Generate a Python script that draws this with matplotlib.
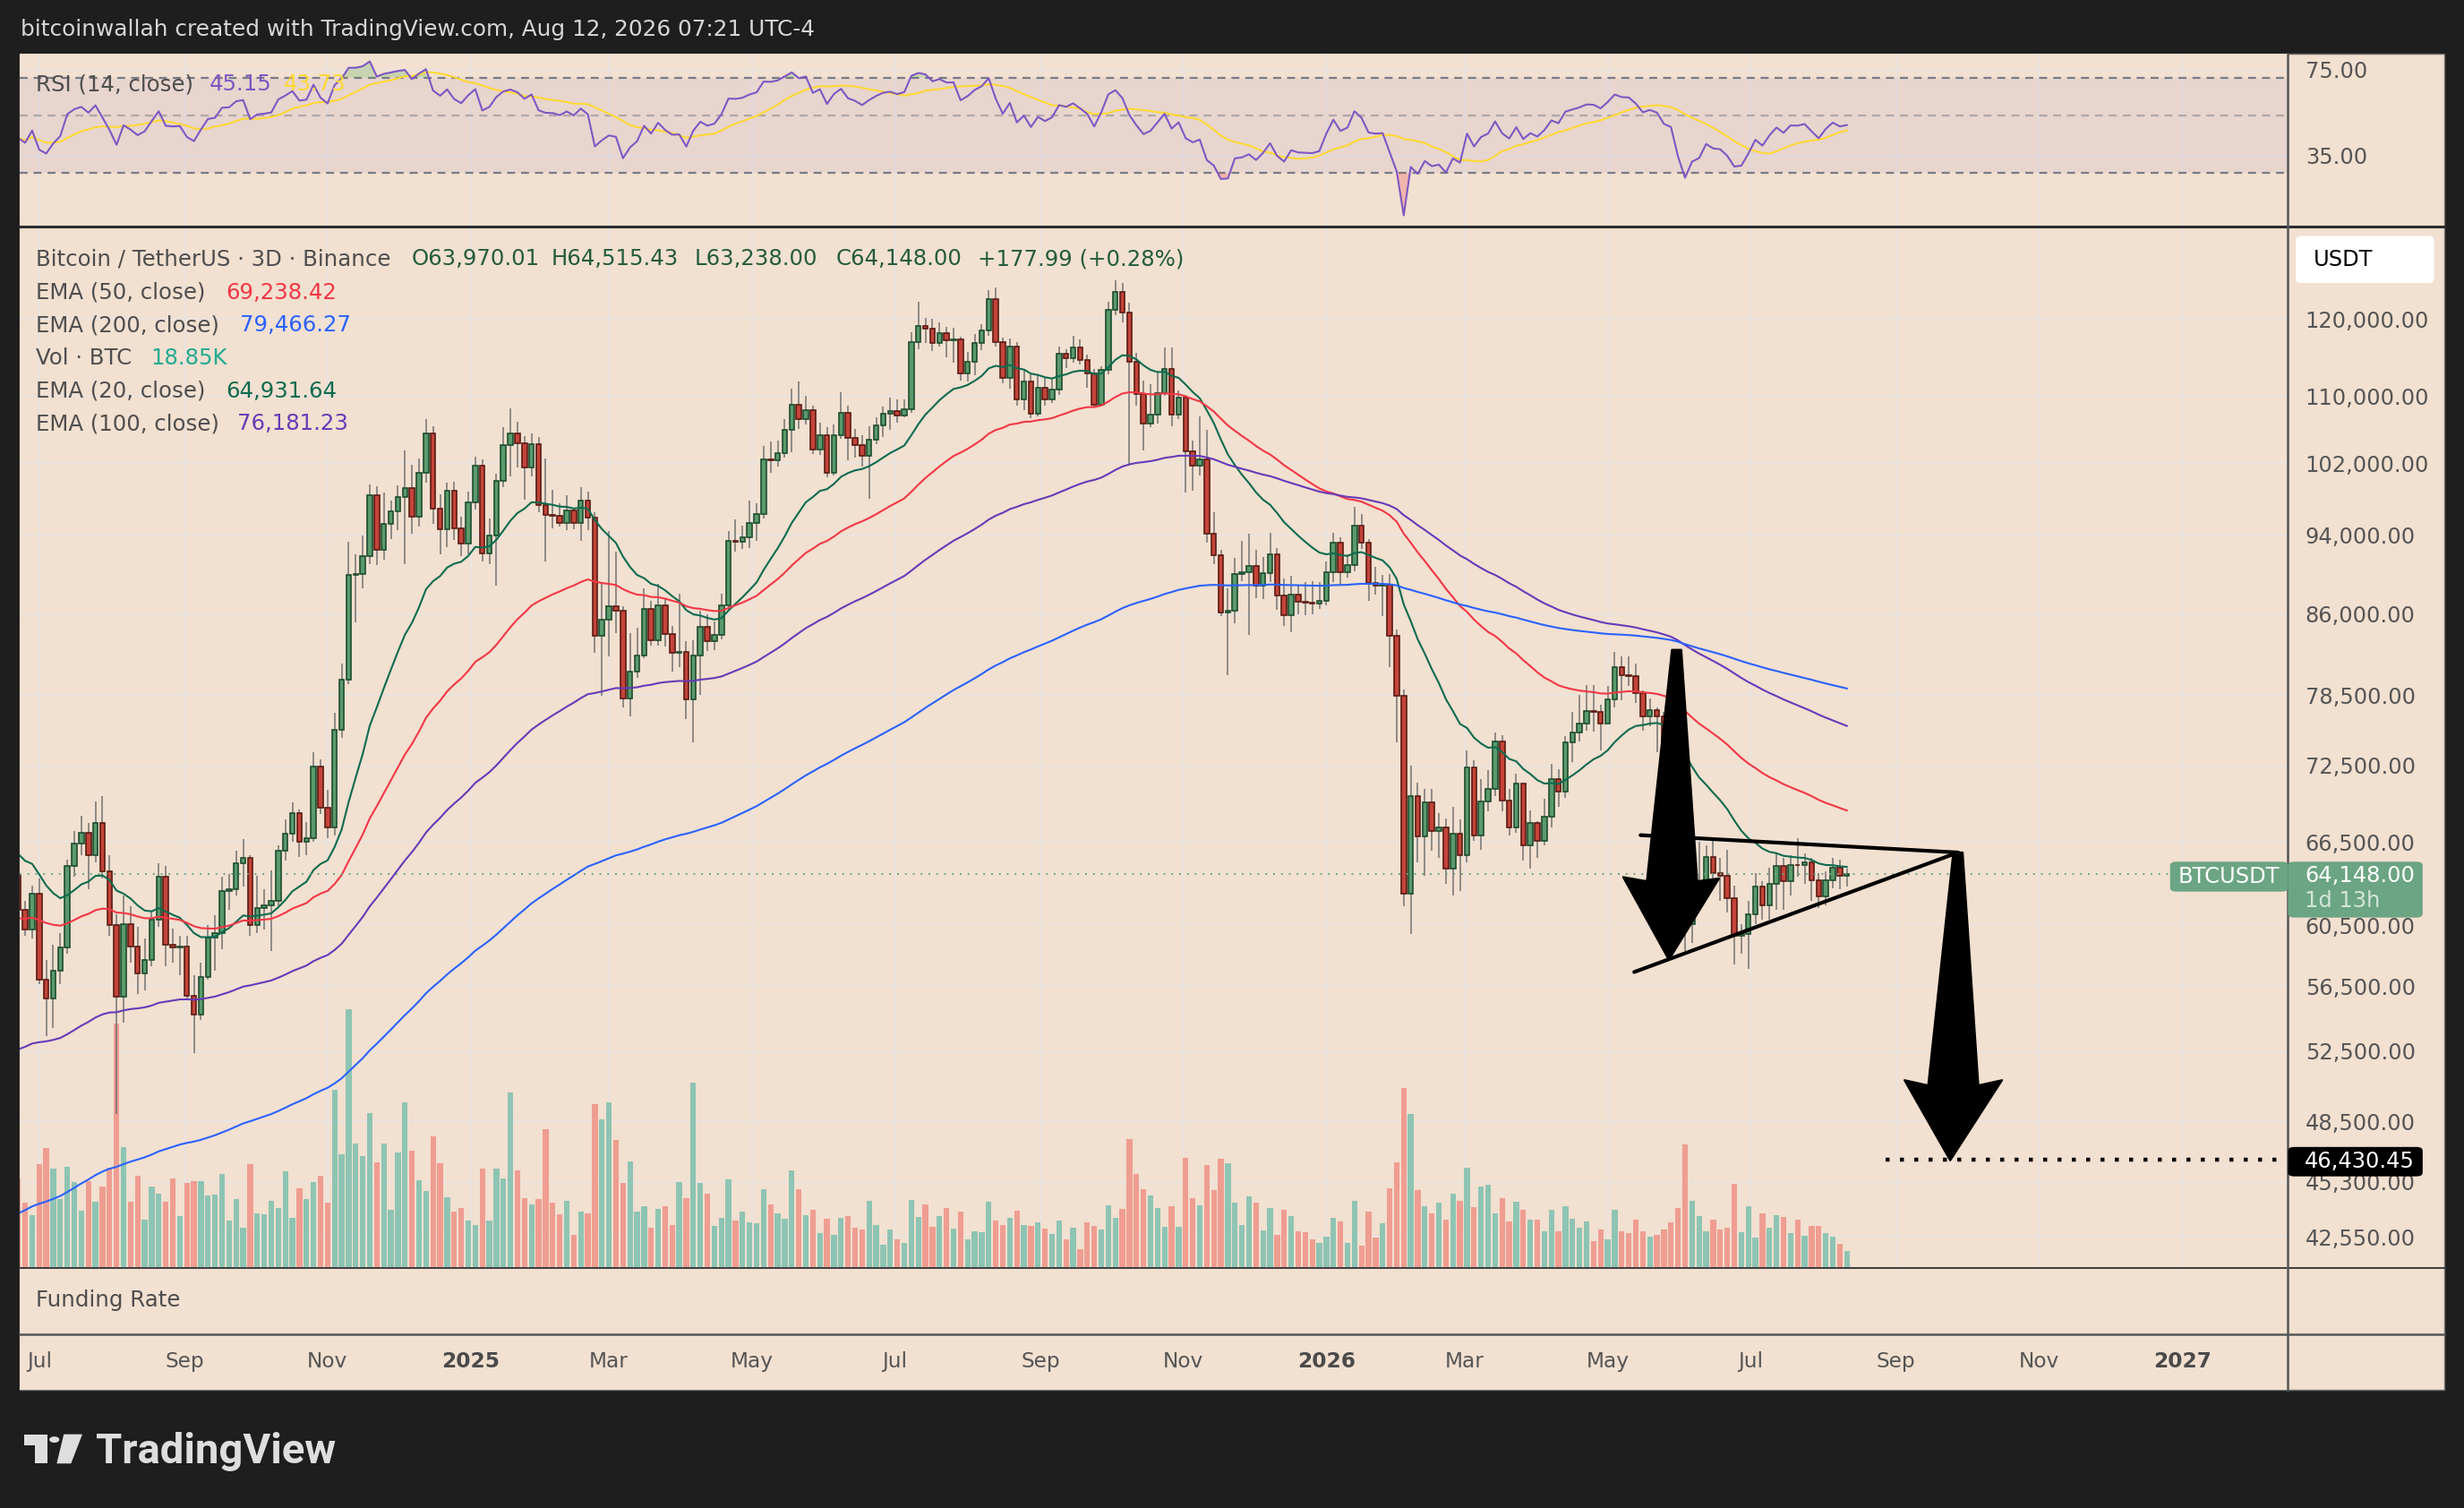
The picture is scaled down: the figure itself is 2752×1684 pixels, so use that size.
import numpy as np
import pandas as pd
import matplotlib
matplotlib.use("Agg")
import matplotlib.pyplot as plt
import matplotlib.dates as mdates
from matplotlib.lines import Line2D
from matplotlib.patches import Rectangle, FancyBboxPatch, Polygon, Circle
from matplotlib.ticker import FixedLocator, NullLocator, NullFormatter
from matplotlib.transforms import blended_transform_factory

plt.rcParams['font.family'] = ['DejaVu Sans']

# ---------------- data ----------------
# BTCUSDT 3D candles, first candle 2024-06-22, prices in thousand USDT
first_open_k = 64.0
closes_k = [61.6, 60.2, 62.7, 56.9, 55.7, 57.5, 59.0, 64.7, 66.4, 67.2,
            65.5, 67.9, 64.3, 60.5, 55.8, 60.6, 59.1, 57.3, 58.2, 60.9,
            63.9, 59.2, 59.0, 59.1, 55.9, 54.7, 57.1, 59.7, 60.0, 62.9,
            63.0, 64.9, 65.3, 60.5, 61.7, 61.9, 62.2, 65.8, 67.1, 68.7,
            66.5, 66.8, 72.4, 69.1, 67.6, 75.5, 79.9, 89.9, 90.0, 91.8,
            98.4, 92.5, 95.2, 96.6, 98.2, 99.2, 96.0, 100.9, 105.5, 96.9,
            94.7, 98.9, 94.8, 93.1, 97.6, 101.7, 92.1, 94.0, 100.0, 104.1,
            105.5, 104.3, 101.5, 104.2, 97.3, 96.2, 96.1, 95.3, 96.7, 95.3,
            97.8, 95.9, 83.9, 85.5, 86.8, 86.3, 78.2, 80.6, 82.1, 86.5,
            83.5, 86.9, 84.1, 82.3, 82.4, 78.1, 82.1, 84.8, 83.4, 84.0,
            86.9, 93.4, 93.3, 93.8, 95.3, 96.3, 102.4, 102.3, 103.2, 105.9,
            108.9, 107.2, 108.3, 103.6, 105.3, 100.9, 105.3, 108.0, 104.9, 104.1,
            102.8, 104.7, 106.4, 107.8, 108.2, 107.6, 108.4, 116.9, 119.1, 118.7,
            116.8, 118.1, 117.2, 117.3, 112.9, 114.4, 116.8, 118.5, 122.7, 116.9,
            112.3, 116.3, 109.6, 111.9, 107.8, 111.1, 109.6, 110.8, 115.4, 114.8,
            116.2, 114.6, 112.9, 109.0, 113.3, 121.3, 123.8, 120.9, 114.4, 110.3,
            106.7, 107.7, 110.4, 113.5, 107.7, 109.8, 103.4, 101.7, 102.4, 94.2,
            91.9, 86.2, 86.3, 90.0, 90.2, 90.8, 88.8, 90.1, 92.0, 87.8,
            85.9, 87.9, 87.2, 87.1, 87.0, 87.3, 90.2, 93.2, 90.2, 90.9,
            95.0, 93.2, 89.1, 88.8, 88.9, 83.9, 78.4, 62.7, 70.0, 66.9,
            69.5, 67.3, 67.6, 64.5, 67.1, 65.5, 72.3, 67.0, 69.6, 70.6,
            74.5, 69.7, 67.6, 71.0, 66.2, 67.9, 66.6, 68.4, 71.4, 70.4,
            74.4, 75.2, 76.0, 77.1, 77.0, 76.0, 78.1, 81.0, 80.3, 80.2,
            78.7, 76.6, 77.2, 76.6, 74.1, 73.4, 66.4, 60.6, 62.7, 63.2,
            65.4, 64.2, 64.0, 62.4, 59.8, 59.9, 61.3, 63.2, 61.9, 63.4,
            64.7, 63.6, 64.8, 64.75, 65.0, 63.7, 62.5, 63.7, 64.6, 63.97,
            64.148]
highs_k = [64.6, 62.2, 63.3, 63.8, 58.2, 59.2, 60.0, 65.2, 67.3, 68.5,
           67.9, 69.6, 70.0, 65.5, 61.3, 62.6, 61.8, 60.4, 59.6, 61.5,
           64.9, 64.7, 60.3, 59.8, 59.8, 57.2, 58.0, 60.5, 61.2, 63.9,
           64.1, 65.8, 66.7, 65.5, 64.0, 63.0, 64.4, 66.2, 68.2, 69.5,
           69.0, 68.0, 73.6, 73.0, 70.5, 76.9, 81.3, 93.3, 92.0, 94.0,
           99.6, 99.4, 98.7, 97.8, 99.5, 103.5, 101.8, 102.5, 107.2, 106.3,
           98.5, 99.8, 99.9, 96.0, 98.8, 102.7, 102.4, 95.8, 100.8, 106.2,
           108.5, 106.9, 105.2, 105.5, 105.0, 102.5, 99.0, 97.5, 98.4, 97.0,
           99.3, 98.8, 96.5, 89.0, 94.5, 92.3, 86.8, 84.2, 84.7, 88.5,
           87.3, 89.0, 87.5, 84.9, 88.0, 83.4, 83.5, 86.3, 86.0, 85.3,
           88.0, 94.5, 95.7, 95.0, 97.8, 97.5, 104.0, 104.5, 104.6, 107.2,
           110.9, 111.9, 110.0, 108.8, 106.8, 106.2, 106.6, 110.5, 108.8, 106.0,
           105.3, 106.3, 107.4, 108.7, 109.8, 109.6, 109.6, 118.2, 122.4, 120.2,
           120.0, 119.6, 119.0, 118.8, 117.7, 115.6, 118.0, 119.3, 124.0, 124.4,
           117.5, 117.4, 117.0, 113.2, 112.8, 112.7, 112.4, 112.3, 116.3, 116.0,
           117.8, 117.3, 115.3, 113.5, 113.8, 122.4, 125.4, 125.0, 122.3, 115.5,
           112.0, 111.5, 113.0, 116.2, 116.2, 110.7, 110.2, 104.6, 107.5, 105.9,
           96.5, 92.5, 88.5, 91.6, 93.4, 94.2, 92.5, 91.7, 94.3, 92.7,
           89.5, 89.8, 88.8, 89.2, 89.3, 89.2, 91.3, 94.3, 93.8, 92.0,
           97.1, 96.3, 93.6, 90.7, 89.9, 90.0, 84.5, 79.0, 72.5, 71.1,
           70.6, 70.6, 68.7, 68.3, 69.2, 68.2, 73.7, 72.9, 71.4, 72.1,
           75.2, 75.0, 70.6, 71.8, 71.0, 68.9, 68.1, 69.8, 72.6, 72.2,
           74.9, 77.0, 78.5, 79.4, 79.4, 77.6, 79.3, 82.4, 82.0, 82.0,
           81.3, 78.9, 78.2, 77.4, 77.0, 74.6, 73.9, 67.0, 64.7, 66.5,
           66.2, 66.8, 65.3, 65.9, 63.3, 60.6, 62.2, 64.2, 63.6, 64.6,
           65.6, 65.3, 65.5, 66.8, 65.6, 65.3, 64.2, 64.3, 65.3, 65.2,
           64.515]
lows_k = [60.8, 59.8, 59.6, 56.6, 53.4, 53.9, 56.6, 58.6, 63.9, 65.5,
          63.0, 65.0, 63.8, 59.8, 48.9, 54.2, 58.0, 56.0, 56.2, 57.8,
          60.4, 57.8, 58.0, 57.2, 55.6, 52.4, 54.4, 56.9, 57.5, 58.9,
          61.6, 62.6, 63.2, 59.8, 60.0, 60.2, 58.8, 61.8, 65.1, 66.5,
          65.4, 65.5, 66.5, 68.6, 66.8, 67.0, 74.8, 79.5, 85.2, 88.5,
          91.0, 90.9, 91.5, 93.6, 94.6, 91.0, 94.2, 94.9, 99.8, 95.2,
          92.0, 92.8, 93.5, 91.8, 92.0, 96.8, 91.3, 91.0, 88.8, 99.3,
          100.5, 101.5, 97.9, 100.5, 96.5, 91.3, 94.8, 94.9, 94.6, 94.7,
          93.4, 94.6, 82.3, 78.4, 82.0, 84.2, 77.4, 76.6, 80.0, 81.8,
          83.0, 83.0, 82.9, 80.6, 81.0, 76.4, 74.4, 78.5, 82.5, 82.6,
          83.6, 86.3, 92.3, 92.6, 92.7, 93.4, 95.8, 100.9, 101.6, 102.6,
          103.3, 106.0, 106.5, 103.1, 102.9, 100.4, 100.6, 104.8, 102.3, 102.6,
          101.6, 98.0, 104.2, 105.1, 105.9, 106.8, 107.4, 108.0, 116.0, 116.8,
          115.8, 116.3, 115.0, 114.3, 112.0, 111.9, 112.7, 115.9, 117.8, 116.3,
          111.6, 111.0, 108.8, 108.3, 107.3, 107.5, 108.8, 109.2, 110.2, 113.6,
          114.3, 114.0, 111.1, 108.6, 108.8, 112.8, 120.6, 119.6, 101.7, 108.8,
          103.5, 106.2, 106.7, 110.0, 106.3, 107.2, 98.7, 98.9, 100.6, 93.2,
          91.0, 85.8, 80.3, 85.1, 89.3, 84.0, 87.6, 87.5, 89.2, 86.4,
          84.9, 84.3, 86.0, 85.9, 86.0, 86.5, 86.9, 89.2, 88.8, 89.6,
          90.3, 92.6, 87.3, 87.9, 85.8, 81.0, 74.4, 61.8, 59.9, 65.0,
          64.0, 65.8, 65.3, 63.4, 62.6, 62.9, 65.0, 66.6, 65.9, 68.8,
          70.0, 68.8, 67.0, 67.2, 65.1, 64.5, 65.3, 66.2, 67.6, 69.2,
          69.9, 72.8, 74.5, 75.4, 75.3, 73.7, 76.0, 77.4, 78.0, 79.3,
          77.8, 75.4, 75.8, 73.6, 73.2, 70.8, 65.3, 58.8, 59.3, 61.7,
          62.4, 63.5, 62.2, 61.4, 57.9, 58.6, 57.6, 60.6, 60.9, 60.9,
          61.6, 61.6, 62.6, 63.9, 63.4, 62.2, 61.7, 61.9, 63.1, 63.0,
          63.238]
# volume in thousand BTC
volume_k = [98, 71, 58, 113, 131, 108, 75, 110, 94, 63,
            95, 72, 89, 109, 266, 132, 72, 101, 53, 89,
            81, 72, 98, 57, 93, 95, 95, 79, 80, 103,
            52, 75, 44, 113, 60, 59, 73, 66, 106, 55,
            87, 75, 94, 101, 71, 194, 124, 282, 136, 122,
            169, 115, 136, 64, 126, 181, 128, 96, 84, 144,
            114, 77, 62, 66, 52, 47, 108, 52, 108, 98,
            191, 107, 76, 70, 75, 151, 71, 59, 73, 36,
            62, 60, 179, 162, 181, 140, 93, 116, 62, 68,
            44, 65, 68, 47, 94, 76, 202, 93, 81, 46,
            55, 97, 52, 62, 50, 49, 86, 70, 60, 54,
            107, 86, 58, 64, 38, 54, 36, 55, 57, 44,
            42, 73, 47, 26, 42, 32, 28, 74, 56, 70,
            45, 57, 66, 43, 62, 32, 40, 39, 72, 52,
            47, 55, 63, 47, 46, 50, 43, 37, 52, 32,
            44, 21, 50, 46, 42, 69, 55, 65, 141, 103,
            86, 79, 66, 45, 68, 45, 120, 76, 69, 112,
            85, 119, 114, 71, 47, 78, 71, 41, 66, 36,
            64, 57, 40, 39, 32, 28, 34, 55, 51, 28,
            73, 25, 62, 33, 49, 87, 115, 196, 168, 85,
            68, 60, 71, 53, 81, 73, 109, 67, 89, 91,
            60, 76, 51, 72, 64, 53, 53, 40, 64, 40,
            68, 54, 44, 51, 30, 42, 32, 64, 40, 38,
            53, 40, 34, 36, 42, 50, 66, 135, 73, 57,
            40, 53, 42, 44, 92, 39, 68, 33, 60, 44,
            58, 56, 38, 53, 35, 46, 46, 38, 34, 27,
            18.85]

ema_periods = [20, 50, 100, 200]
ema_first_k = [65.6, 61.0, 52.6, 43.7]     # EMA values on the first visible candle
ema_colors = ['#0d6b4f', '#f23645', '#673ab7', '#2962ff']
rsi_first_gain_k, rsi_first_loss_k = 1.1, 1.4

price_ticks = [120000, 110000, 102000, 94000, 86000, 78500, 72500, 66500,
               60500, 56500, 52500, 48500, 45300, 42550]
rsi_ticks = [75, 35]
month_starts = ['2024-07-01', '2024-09-01', '2024-11-01', '2025-01-01', '2025-03-01',
                '2025-05-01', '2025-07-01', '2025-09-01', '2025-11-01', '2026-01-01',
                '2026-03-01', '2026-05-01', '2026-07-01', '2026-09-01', '2026-11-01',
                '2027-01-01']
month_labels = ['Jul', 'Sep', 'Nov', '2025', 'Mar', 'May', 'Jul', 'Sep', 'Nov', '2026',
                'Mar', 'May', 'Jul', 'Sep', 'Nov', '2027']

# hand drawings: (days after first candle, price in k)
tri_upper = [(692.0, 67.0), (827.4, 65.7)]
tri_lower = [(689.3, 57.4), (827.4, 65.7)]
arrow_1 = [(705.4, 82.6), (709.4, 82.6), (716.2, 63.6), (725.5, 63.8),
           (704.1, 58.2), (684.6, 63.9), (694.7, 63.6)]
arrow_2 = [(825.4, 65.7), (829.4, 65.7), (836.1, 50.5), (846.2, 50.8),
           (824.1, 46.4), (804.6, 50.8), (814.7, 50.5)]
target_price = 46430.45
target_days = (796.6, 965.5)
last_price = 64148.00

# ---------------- derived series ----------------
first_day = np.datetime64('2024-06-22')
n = len(closes_k)
dates = first_day + np.arange(n) * np.timedelta64(3, 'D')
x = mdates.date2num(dates)
x0 = mdates.date2num(first_day)

closes = np.array(closes_k) * 1000
opens = np.concatenate([[first_open_k * 1000], closes[:-1]])
highs = np.array(highs_k) * 1000
lows = np.array(lows_k) * 1000
vol = np.array(volume_k, dtype=float)
up = closes >= opens

emas = []
for p, s in zip(ema_periods, ema_first_k):
    a = 2.0 / (p + 1)
    e = np.empty(n)
    e[0] = s * 1000
    for i in range(1, n):
        e[i] = a * closes[i] + (1 - a) * e[i - 1]
    emas.append(e)

chg = np.diff(closes, prepend=opens[0])
ag, al = rsi_first_gain_k * 1000, rsi_first_loss_k * 1000
rsi = np.empty(n)
for i in range(n):
    ag = (ag * 13 + max(chg[i], 0)) / 14
    al = (al * 13 + max(-chg[i], 0)) / 14
    rsi[i] = 100 - 100 / (1 + ag / al)
rsi_ma = pd.Series(rsi).rolling(14, min_periods=1).mean().values

# ---------------- layout (reference units 1568 x 959) ----------------
FW, FH = 1568.0, 959.0
def fx(v): return v / FW
def fy(v): return 1 - v / FH

BG = '#f2e0d0'
DARK = '#1e1e1e'
GRID = '#ebe3de'
TXT = '#4e4e4e'
LEFT, RIGHT, EDGE = 12.7, 1455.9, 1555.6
TOP, RSI_B, MAIN_B, FUND_B, TIME_B = 34.0, 144.0, 806.6, 848.4, 883.7
FS = 8.4       # time axis
FS_AX = 8.7    # price scale
FS_L = 8.8     # legends

fig = plt.figure(figsize=(13.76, 8.42), dpi=200, facecolor=DARK)
fig.add_artist(Rectangle((fx(LEFT), fy(TIME_B)), fx(EDGE) - fx(LEFT), (TIME_B - TOP) / FH,
                         transform=fig.transFigure, facecolor=BG, edgecolor='#707070',
                         lw=0.5, zorder=-5))

def pane(top, bottom):
    a = fig.add_axes([fx(LEFT), fy(bottom), fx(RIGHT) - fx(LEFT), (bottom - top) / FH])
    a.set_facecolor(BG)
    for s in a.spines.values():
        s.set_visible(False)
    a.set_xlim(x0 + 0.8, x0 + 968.1)
    a.set_xticks([])
    return a

month_x = mdates.date2num(np.array(month_starts, dtype='datetime64[D]'))

# volume layer (bottom) + grid
ax_vol = pane(RSI_B, MAIN_B)
ax_vol.set_ylim(0, 1133)
ax_vol.set_yticks([])
ax = pane(RSI_B, MAIN_B)
ax.patch.set_visible(False)
ax.set_yscale('log')
ax.set_ylim(41072, 133260)

for mx in month_x:
    ax_vol.axvline(mx, color=GRID, lw=0.8, zorder=0)
gtr = blended_transform_factory(ax_vol.transAxes, ax.transData)
for t in price_ticks:
    ax_vol.plot([0, 1], [t, t], color=GRID, lw=0.8, transform=gtr, zorder=0)

ax_vol.bar(x, vol, width=2.4, color=np.where(up, '#8ec4b3', '#ef9d91'), lw=0, zorder=1)

# candles
ax.vlines(x, lows, highs, color='#737373', lw=0.55, zorder=3)
body_lo = np.minimum(opens, closes)
body_h = np.abs(closes - opens)
ax.bar(x[up], body_h[up], bottom=body_lo[up], width=2.1, color='#5a9a6c',
       edgecolor='#1d4d2e', lw=0.6, zorder=4)
ax.bar(x[~up], body_h[~up], bottom=body_lo[~up], width=2.1, color='#c4443a',
       edgecolor='#5a1a12', lw=0.6, zorder=4)

for e, c in zip(emas, ema_colors):
    ax.plot(x, e, color=c, lw=0.75, zorder=5)

# current price line
ptr = blended_transform_factory(ax.transAxes, ax.transData)
ax.plot([0, (1381 - LEFT) / (RIGHT - LEFT)], [last_price, last_price], color='#6ba583',
        lw=0.7, ls=(0, (1, 3.5)), transform=ptr, zorder=6)

# drawings
def pts(seq):
    return [(x0 + d, p * 1000) for d, p in seq]
for seg in (tri_upper, tri_lower):
    (xa, ya), (xb, yb) = pts(seg)
    ax.plot([xa, xb], [ya, yb], color='black', lw=1.5, solid_capstyle='round', zorder=7)
for arr in (arrow_1, arrow_2):
    ax.add_patch(Polygon(pts(arr), closed=True, facecolor='black', edgecolor='black',
                         lw=0.8, joinstyle='round', zorder=8))
ax.plot([x0 + target_days[0], x0 + target_days[1]], [target_price, target_price],
        color='black', lw=1.6, ls=(0, (1, 2.6)), dash_capstyle='butt', zorder=7)

ax.yaxis.tick_right()
ax.yaxis.set_major_locator(FixedLocator(price_ticks))
ax.yaxis.set_minor_locator(NullLocator())
ax.yaxis.set_minor_formatter(NullFormatter())
ax.set_yticklabels([f'{t:,.2f}' for t in price_ticks])
ax.tick_params(axis='y', length=0, pad=7, labelsize=FS_AX, labelcolor='#555555')

# RSI pane
ax_rsi = pane(TOP, RSI_B)
ax_rsi.set_yscale('log')
ax_rsi.set_ylim(18.7, 86.7)
for mx in month_x:
    ax_rsi.axvline(mx, color=GRID, lw=0.8, zorder=0)
for t in rsi_ticks:
    ax_rsi.axhline(t, color=GRID, lw=0.8, zorder=0)
ax_rsi.axhspan(30, 70, color='#7e57c2', alpha=0.08, lw=0, zorder=1)
ax_rsi.axhline(70, color='#787b86', lw=0.8, ls=(0, (4, 3)), zorder=2)
ax_rsi.axhline(50, color='#787b86', lw=0.8, ls=(0, (4, 3)), alpha=0.5, zorder=2)
ax_rsi.axhline(30, color='#787b86', lw=0.8, ls=(0, (4, 3)), zorder=2)
ax_rsi.fill_between(x, rsi, 70, where=rsi > 70, interpolate=True, color='#4caf50',
                    alpha=0.25, lw=0, zorder=2)
ax_rsi.fill_between(x, rsi, 30, where=rsi < 30, interpolate=True, color='#f23645',
                    alpha=0.25, lw=0, zorder=2)
ax_rsi.plot(x, rsi, color='#7e57c2', lw=0.75, zorder=4)
ax_rsi.plot(x, rsi_ma, color='#fdd835', lw=0.75, zorder=3)
ax_rsi.yaxis.tick_right()
ax_rsi.yaxis.set_major_locator(FixedLocator(rsi_ticks))
ax_rsi.yaxis.set_minor_locator(NullLocator())
ax_rsi.yaxis.set_minor_formatter(NullFormatter())
ax_rsi.set_yticklabels([f'{t:.2f}' for t in rsi_ticks])
ax_rsi.tick_params(axis='y', length=0, pad=7, labelsize=FS_AX, labelcolor='#555555')

# funding + time axis panes
ax_fund = pane(MAIN_B, FUND_B)
ax_fund.set_yticks([])
ax_time = pane(FUND_B, TIME_B)
ax_time.set_yticks([])
ttr = blended_transform_factory(ax_time.transData, ax_time.transAxes)
for mx, lab in zip(month_x, month_labels):
    bold = lab.isdigit()
    ax_time.text(mx, 0.5, lab, transform=ttr, ha='center', va='center', fontsize=FS,
                 color='#4a4a4a' if bold else '#555555', fontweight='bold' if bold else 'normal')

# separators
def hline(y, c, lw):
    fig.add_artist(Line2D([fx(LEFT), fx(EDGE)], [fy(y), fy(y)], color=c, lw=lw,
                          transform=fig.transFigure, zorder=9))
hline(RSI_B, '#2c2c2c', 1.1)
hline(MAIN_B, '#3c3c3c', 0.7)
hline(FUND_B, '#555555', 0.9)
fig.add_artist(Line2D([fx(RIGHT), fx(RIGHT)], [fy(TOP), fy(TIME_B)], color='#555555', lw=0.9,
                      transform=fig.transFigure, zorder=9))

# ---------------- texts ----------------
def ftext(xp, yp, s, color=TXT, size=FS_L, **kw):
    fig.text(fx(xp), fy(yp), s, color=color, fontsize=size, va='center', ha='left', **kw)

ftext(13, 19, 'bitcoinwallah created with TradingView.com, Aug 12, 2026 07:21 UTC-4',
      color='#d6d6d6', size=8.9)

ftext(23, 53.6, 'RSI (14, close)')
ftext(133, 53.6, '45.15', color='#7e57c2')
ftext(180.6, 53.6, '43.73', color='#fdd835')

OHLC = '#245c3c'
ftext(23, 164.8, 'Bitcoin / TetherUS \u00b7 3D \u00b7 Binance')
ftext(262, 164.8, 'O63,970.01', color=OHLC)
ftext(351, 164.8, 'H64,515.43', color=OHLC)
ftext(442, 164.8, 'L63,238.00', color=OHLC)
ftext(532, 164.8, 'C64,148.00', color=OHLC)
ftext(622, 164.8, '+177.99 (+0.28%)', color=OHLC)

legend_rows = [('EMA (50, close)', '69,238.42', '#f23645', 143.5, 186.1),
               ('EMA (200, close)', '79,466.27', '#2962ff', 152.6, 207.0),
               ('Vol \u00b7 BTC', '18.85K', '#22ab94', 95.7, 228.0),
               ('EMA (20, close)', '64,931.64', '#0d6b4f', 143.5, 248.8),
               ('EMA (100, close)', '76,181.23', '#673ab7', 151.0, 269.6)]
for lab, val, col, vx, vy in legend_rows:
    ftext(23, vy, lab)
    ftext(vx, vy, val, color=col)

ftext(23, 827, 'Funding Rate')

# right scale badges
def badge(x1, y1, x2, y2, fc, z=10):
    fig.add_artist(FancyBboxPatch((fx(x1), fy(y2)), fx(x2) - fx(x1), (y2 - y1) / FH,
                                  boxstyle='round,pad=0,rounding_size=0.0025',
                                  transform=fig.transFigure, facecolor=fc, edgecolor='none',
                                  zorder=z))
badge(1461, 150, 1549, 180, 'white')
ftext(1472, 165, 'USDT', color='black', size=FS_AX, zorder=11)
badge(1381, 548, 1456, 567, '#6ba583')
badge(1456, 548, 1541.7, 583.5, '#6ba583')
ftext(1386, 557.5, 'BTCUSDT', color='white', size=FS_AX, zorder=11)
ftext(1466.7, 557, '64,148.00', color='white', size=FS_AX, zorder=11)
ftext(1466.7, 573, '1d 13h', color='#d3e6d9', size=FS_AX, zorder=11)
badge(1456, 729.4, 1541.7, 748.1, 'black')
ftext(1466.7, 738.6, '46,430.45', color='white', size=FS_AX, zorder=11)

# TradingView logo
def fpoly(verts, **kw):
    fig.add_artist(Polygon([(fx(a), fy(b)) for a, b in verts], closed=True,
                           transform=fig.transFigure, **kw))
LOGO = '#dedede'
fpoly([(15.2, 912.1), (30.4, 912.1), (30.4, 930.7), (22.4, 930.7), (22.4, 919.3), (15.2, 919.3)],
      facecolor=LOGO, edgecolor='none')
fig.add_artist(Circle((fx(34.6), fy(915.5)), 3.2 / FW, transform=fig.transFigure,
                      facecolor=LOGO, edgecolor='none'))
fpoly([(40.6, 912.1), (52.4, 912.1), (45.2, 930.7), (36.1, 930.7)], facecolor=LOGO, edgecolor='none')
fig.text(fx(61), fy(930.7), 'TradingView', color=LOGO, fontsize=17, family='Roboto',
         fontweight='bold', ha='left', va='baseline')

fig.savefig('out.png', dpi=200, facecolor=DARK)
